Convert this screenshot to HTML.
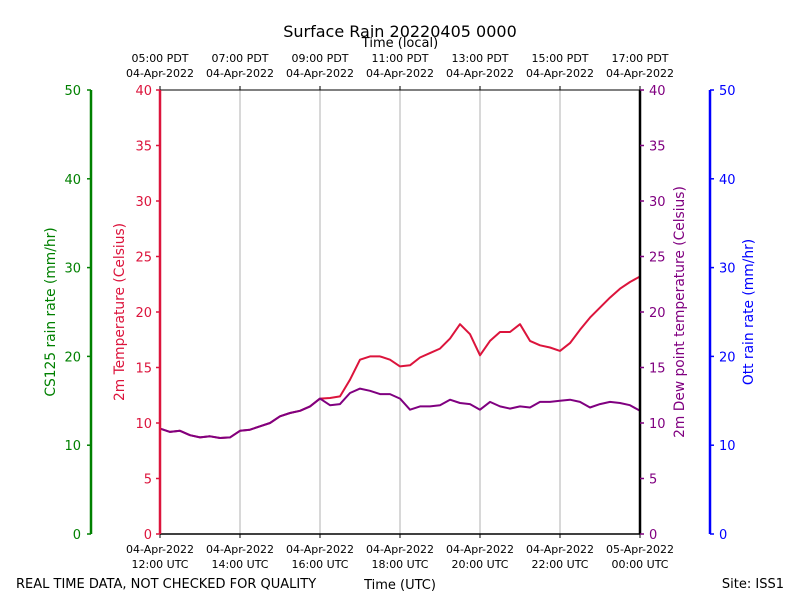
<!DOCTYPE html>
<html><head><meta charset="utf-8"><style>
body{margin:0;background:#fff}
text{font-family:"DejaVu Sans","Liberation Sans",sans-serif}
</style></head><body>
<svg id="chart" width="800" height="600" xmlns="http://www.w3.org/2000/svg">
<text x="400" y="37" font-size="16" text-anchor="middle">Surface Rain 20220405 0000</text>
<text x="400" y="47" font-size="13" text-anchor="middle">Time (local)</text>
<text x="400" y="589" font-size="13" text-anchor="middle">Time (UTC)</text>
<text x="16" y="588" font-size="13">REAL TIME DATA, NOT CHECKED FOR QUALITY</text>
<text x="784" y="588" font-size="13" text-anchor="end">Site: ISS1</text>
<g id="grid"></g><g id="series"></g><g id="axes"></g>
<text transform="translate(55,312) rotate(-90)" font-size="13.8" fill="green" text-anchor="middle">CS125 rain rate (mm/hr)</text>
<text transform="translate(124,312) rotate(-90)" font-size="13.8" fill="crimson" text-anchor="middle">2m Temperature (Celsius)</text>
<text transform="translate(684,312) rotate(-90)" font-size="13.8" fill="purple" text-anchor="middle">2m Dew point temperature (Celsius)</text>
<text transform="translate(753,312) rotate(-90)" font-size="13.8" fill="blue" text-anchor="middle">Ott rain rate (mm/hr)</text>
</svg>
<script>
const hours=[0,0.25,0.5,0.75,1,1.25,1.5,1.75,2,2.25,2.5,2.75,3,3.25,3.5,3.75,4,4.25,4.5,4.75,5,5.25,5.5,5.75,6,6.25,6.5,6.75,7,7.25,7.5,7.75,8,8.25,8.5,8.75,9,9.25,9.5,9.75,10,10.25,10.5,10.75,11,11.25,11.5,11.75,12];
const dewpoint=[9.5,9.2,9.3,8.9,8.7,8.8,8.65,8.7,9.3,9.4,9.7,10.0,10.6,10.9,11.1,11.5,12.2,11.6,11.7,12.7,13.1,12.9,12.6,12.6,12.2,11.2,11.5,11.5,11.6,12.1,11.8,11.7,11.2,11.9,11.5,11.3,11.5,11.4,11.9,11.9,12.0,12.1,11.9,11.4,11.7,11.9,11.8,11.6,11.1];
const temperature=[9.5,9.2,9.3,8.9,8.7,8.8,8.65,8.7,9.3,9.4,9.7,10.0,10.6,10.9,11.1,11.5,12.2,12.25,12.4,13.9,15.7,16.0,16.0,15.7,15.1,15.2,15.9,16.3,16.7,17.6,18.9,18.0,16.1,17.4,18.2,18.2,18.9,17.4,17.0,16.8,16.5,17.2,18.4,19.5,20.4,21.3,22.1,22.7,23.2];
const utcLabels=["12:00 UTC","14:00 UTC","16:00 UTC","18:00 UTC","20:00 UTC","22:00 UTC","00:00 UTC"];
const utcDates=["04-Apr-2022","04-Apr-2022","04-Apr-2022","04-Apr-2022","04-Apr-2022","04-Apr-2022","05-Apr-2022"];
const localLabels=["05:00 PDT","07:00 PDT","09:00 PDT","11:00 PDT","13:00 PDT","15:00 PDT","17:00 PDT"];
const tempTicks=[0,5,10,15,20,25,30,35,40];
const rainTicks=[0,10,20,30,40,50];
const NS="http://www.w3.org/2000/svg";
const L=160,R=640,T=90,B=534;
const xs=h=>L+(R-L)*h/12;
const yT=v=>B-(B-T)*v/40;
const yR=v=>B-(B-T)*v/50;
function mk(tag,a,parent){const e=document.createElementNS(NS,tag);for(const k in a)e.setAttribute(k,a[k]);parent.appendChild(e);return e;}
const grid=document.getElementById('grid'),series=document.getElementById('series'),axes=document.getElementById('axes');
utcLabels.forEach((lab,i)=>{const x=xs(i*2);
 if(i>0&&i<6){const g=mk('line',{x1:x,x2:x,y1:T,y2:B,stroke:'#b0b0b0','stroke-width':1},grid);
 
 }
 mk('line',{x1:x,x2:x,y1:B,y2:B+4,stroke:'#000'},axes);
 mk('line',{x1:x,x2:x,y1:T,y2:T-4,stroke:'#000'},axes);
 const t1=mk('text',{x:x,y:553,'font-size':11,'text-anchor':'middle'},axes);t1.textContent=utcDates[i];
 
 
 const t2=mk('text',{x:x,y:568,'font-size':11,'text-anchor':'middle'},axes);t2.textContent=lab;
 
 
 const t3=mk('text',{x:x,y:62,'font-size':11,'text-anchor':'middle'},axes);t3.textContent=localLabels[i];
 
 
 const t4=mk('text',{x:x,y:77,'font-size':11,'text-anchor':'middle'},axes);t4.textContent="04-Apr-2022";
 
 
});
function line(vals,color,name){const d=vals.map((v,i)=>(i?'L':'M')+xs(hours[i]).toFixed(1)+','+yT(v).toFixed(1)).join('');
 const p=mk('path',{d:d,fill:'none',stroke:color,'stroke-width':2,'stroke-linejoin':'round'},series);
 
 }
line(temperature,'crimson','temperature-line');
line(dewpoint,'purple','dewpoint-line');
mk('line',{x1:L,x2:R,y1:T,y2:T,stroke:'#000','stroke-width':1},axes);
mk('line',{x1:L,x2:R,y1:B,y2:B,stroke:'#000','stroke-width':1.5},axes);
mk('line',{x1:L,x2:L,y1:T,y2:B,stroke:'crimson','stroke-width':2.5},axes);
mk('line',{x1:R,x2:R,y1:T,y2:B,stroke:'#000','stroke-width':2.5},axes);
mk('line',{x1:91,x2:91,y1:T,y2:B,stroke:'green','stroke-width':2.5},axes);
mk('line',{x1:710,x2:710,y1:T,y2:B,stroke:'blue','stroke-width':2.5},axes);
tempTicks.forEach(v=>{const y=yT(v);
 mk('line',{x1:L-4,x2:L,y1:y,y2:y,stroke:'crimson','stroke-width':1.5},axes);
 const a=mk('text',{x:L-8,y:y+5,'font-size':13,'text-anchor':'end',fill:'crimson'},axes);a.textContent=v;
 
 
 mk('line',{x1:R,x2:R+4,y1:y,y2:y,stroke:'purple','stroke-width':1.5},axes);
 const b=mk('text',{x:R+9,y:y+5,'font-size':13,fill:'purple'},axes);b.textContent=v;
 
 
});
rainTicks.forEach(v=>{const y=yR(v);
 mk('line',{x1:87,x2:91,y1:y,y2:y,stroke:'green','stroke-width':1.5},axes);
 const a=mk('text',{x:81,y:y+5,'font-size':13,'text-anchor':'end',fill:'green'},axes);a.textContent=v;
 
 
 mk('line',{x1:710,x2:714,y1:y,y2:y,stroke:'blue','stroke-width':1.5},axes);
 const b=mk('text',{x:719,y:y+5,'font-size':13,fill:'blue'},axes);b.textContent=v;
 
 
});
</script>
</body></html>
